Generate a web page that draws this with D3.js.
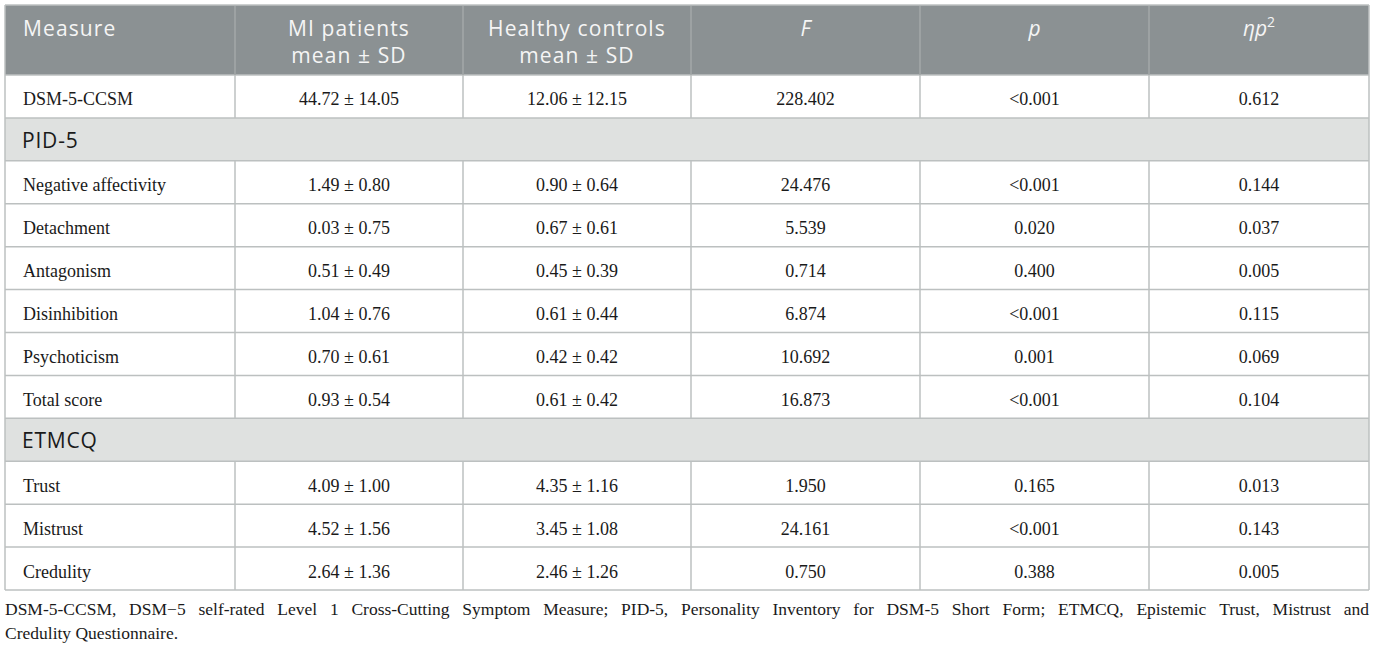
<!DOCTYPE html>
<html>
<head>
<meta charset="utf-8">
<script src="https://cdn.jsdelivr.net/npm/d3@7"></script>
<style>
  html, body { margin: 0; padding: 0; background: #ffffff; }
  svg { display: block; }
</style>
</head>
<body>
<svg id="chart" width="1375" height="649"></svg>
<script>
// ---- data ----
const headerLine1 = ["Measure", "MI patients", "Healthy controls", "F", "p", "ηp"];
const headerLine2 = ["", "mean ± SD", "mean ± SD", "", "", ""];
const measures = ["DSM-5-CCSM", "Negative affectivity", "Detachment", "Antagonism", "Disinhibition",
  "Psychoticism", "Total score", "Trust", "Mistrust", "Credulity"];
const miMean = ["44.72", "1.49", "0.03", "0.51", "1.04", "0.70", "0.93", "4.09", "4.52", "2.64"];
const miSD   = ["14.05", "0.80", "0.75", "0.49", "0.76", "0.61", "0.54", "1.00", "1.56", "1.36"];
const hcMean = ["12.06", "0.90", "0.67", "0.45", "0.61", "0.42", "0.61", "4.35", "3.45", "2.46"];
const hcSD   = ["12.15", "0.64", "0.61", "0.39", "0.44", "0.42", "0.42", "1.16", "1.08", "1.26"];
const fValues = ["228.402", "24.476", "5.539", "0.714", "6.874", "10.692", "16.873", "1.950", "24.161", "0.750"];
const pValues = ["<0.001", "<0.001", "0.020", "0.400", "<0.001", "0.001", "<0.001", "0.165", "<0.001", "0.388"];
const etaValues = ["0.612", "0.144", "0.037", "0.005", "0.115", "0.069", "0.104", "0.013", "0.143", "0.005"];
const sectionTitles = ["PID-5", "ETMCQ"];
const sectionBefore = [1, 7];   // index of first measure in each section
const footnoteLine1 = "DSM-5-CCSM, DSM\u22125 self-rated Level 1 Cross-Cutting Symptom Measure; PID-5, Personality Inventory for DSM-5 Short Form; ETMCQ, Epistemic Trust, Mistrust and";
const footnoteLine2 = "Credulity Questionnaire.";

// ---- layout ----
const colEdges = [5, 235, 463, 691, 920, 1149, 1369];
const tableTop = 5, headerBottom = 75, tableBottom = 590;
const sansFont = "'Open Sans', 'Noto Sans', sans-serif";
const serifFont = "'Liberation Serif', 'DejaVu Serif', serif";
const headerFill = "#8b9193", sectionFill = "#dfe1e0", lineColor = "#bcc0c0";

// build row list
const rows = [];
measures.forEach((m, i) => {
  const s = sectionBefore.indexOf(i);
  if (s >= 0) rows.push({type: "section", title: sectionTitles[s]});
  rows.push({type: "data", cells: [m, miMean[i] + " ± " + miSD[i], hcMean[i] + " ± " + hcSD[i], fValues[i], pValues[i], etaValues[i]]});
});

const y = d3.scaleBand().domain(d3.range(rows.length)).range([headerBottom, tableBottom]).paddingInner(0).paddingOuter(0);
const svg = d3.select("#chart");

// header background
svg.append("rect").attr("x", colEdges[0]).attr("y", tableTop).attr("width", colEdges[6] - colEdges[0])
  .attr("height", headerBottom - tableTop).attr("fill", headerFill);

// row backgrounds
svg.selectAll("rect.row").data(rows).join("rect").attr("class", "row")
  .attr("x", colEdges[0]).attr("y", (d, i) => y(i))
  .attr("width", colEdges[6] - colEdges[0]).attr("height", y.bandwidth())
  .attr("fill", d => d.type === "section" ? sectionFill : "#ffffff");

// horizontal lines
const hLines = [tableTop, headerBottom].concat(rows.map((d, i) => y(i) + y.bandwidth()));
svg.selectAll("line.h").data(hLines).join("line").attr("class", "h")
  .attr("x1", colEdges[0]).attr("x2", colEdges[6]).attr("y1", d => d).attr("y2", d => d)
  .attr("stroke", lineColor).attr("stroke-width", 1.5);

// vertical lines: full for outer edges; inner lines in header and data rows only
const vSegs = [];
colEdges.forEach((x, ci) => {
  const outer = ci === 0 || ci === colEdges.length - 1;
  if (outer) { vSegs.push({x, y1: tableTop, y2: tableBottom, c: lineColor}); return; }
  vSegs.push({x, y1: tableTop + 1, y2: headerBottom, c: "#a3a8a9"});
  rows.forEach((r, i) => {
    if (r.type === "data") vSegs.push({x, y1: y(i), y2: y(i) + y.bandwidth(), c: lineColor});
  });
});
svg.selectAll("line.v").data(vSegs).join("line").attr("class", "v")
  .attr("x1", d => d.x).attr("x2", d => d.x).attr("y1", d => d.y1).attr("y2", d => d.y2)
  .attr("stroke", d => d.c).attr("stroke-width", 1.5);

// header text
const colCenter = i => (colEdges[i] + colEdges[i + 1]) / 2;
const headG = svg.append("g").attr("font-family", sansFont).attr("font-size", 21)
  .attr("fill", "#f5f5f5");
headerLine1.forEach((t, i) => {
  const italic = i >= 3;
  const txt = headG.append("text")
    .attr("x", i === 0 ? 23 : colCenter(i)).attr("y", 36)
    .attr("text-anchor", i === 0 ? "start" : "middle")
    .attr("letter-spacing", italic ? 0 : 1.1)
    .attr("font-style", italic ? "italic" : "normal");
  if (i === 5) {
    txt.append("tspan").text(t);
    txt.append("tspan").text("2").attr("font-style", "normal").attr("font-size", 14).attr("dy", -9);
  } else txt.text(t);
  if (headerLine2[i]) {
    headG.append("text").attr("x", colCenter(i)).attr("y", 63).attr("text-anchor", "middle")
      .attr("letter-spacing", 1.1).text(headerLine2[i]);
  }
});

// body text
rows.forEach((r, i) => {
  const cy = y(i) + y.bandwidth() / 2;
  if (r.type === "section") {
    svg.append("text").attr("x", 22).attr("y", cy + 8.5).attr("font-family", sansFont)
      .attr("font-size", 21).attr("letter-spacing", 0.8).attr("fill", "#1a1a1a").text(r.title);
  } else {
    svg.append("g").selectAll("text").data(r.cells).join("text")
      .attr("x", (d, ci) => ci === 0 ? 23 : colCenter(ci))
      .attr("y", cy + 9)
      .attr("text-anchor", (d, ci) => ci === 0 ? "start" : "middle")
      .attr("font-family", serifFont).attr("font-size", 18).attr("fill", "#1a1a1a")
      .text(d => d);
  }
});

// footnote (justified first line)
function justified(text, x0, x1, yy) {
  const words = text.split(" ");
  const g = svg.append("g").attr("font-family", serifFont).attr("font-size", 17.5).attr("fill", "#1a1a1a");
  const ts = g.selectAll("text").data(words).join("text").attr("y", yy).text(d => d);
  const widths = ts.nodes().map(n => n.getComputedTextLength());
  const gap = (x1 - x0 - d3.sum(widths)) / (words.length - 1);
  let cx = x0;
  ts.attr("x", (d, i) => { const v = cx; cx += widths[i] + gap; return v; });
}
justified(footnoteLine1, 5, 1369, 615);
svg.append("text").attr("x", 5).attr("y", 639).attr("font-family", serifFont).attr("font-size", 17.5)
  .attr("fill", "#1a1a1a").text(footnoteLine2);
</script>
</body>
</html>
